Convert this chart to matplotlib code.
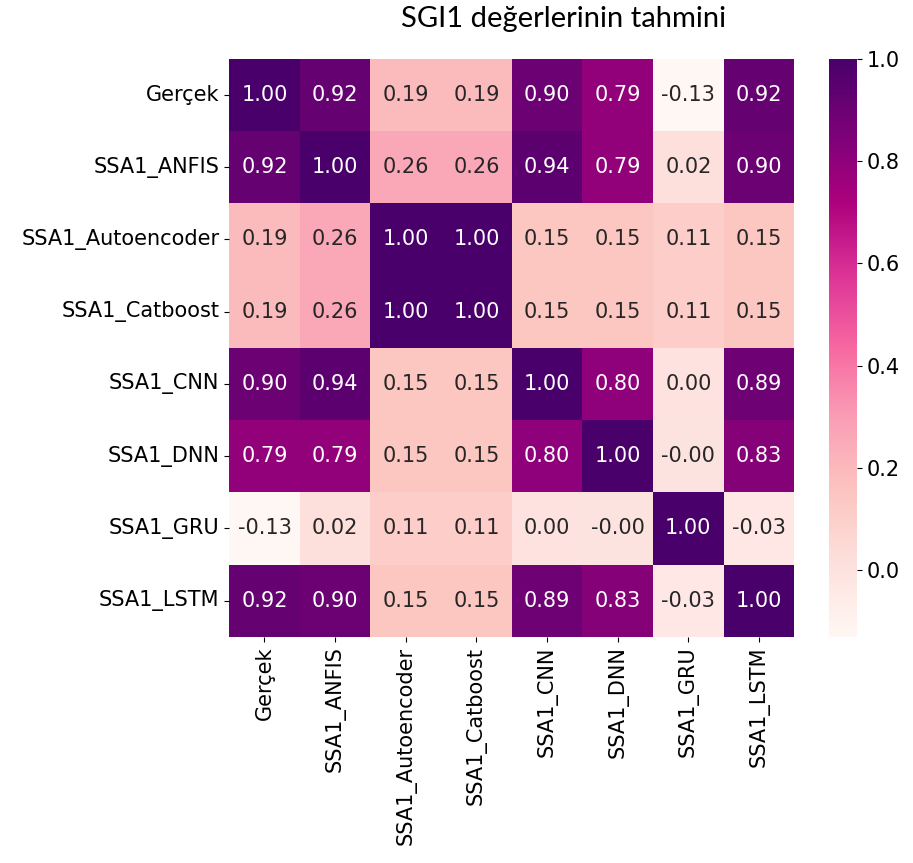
import numpy as np
import pandas as pd
import matplotlib
matplotlib.use('Agg')
import matplotlib.pyplot as plt
import seaborn as sns

labels = ['Gerçek', 'SSA1_ANFIS', 'SSA1_Autoencoder', 'SSA1_Catboost',
          'SSA1_CNN', 'SSA1_DNN', 'SSA1_GRU', 'SSA1_LSTM']

row_gercek = [1.00, 0.92, 0.19, 0.19, 0.90, 0.79, -0.13, 0.92]
row_anfis = [0.92, 1.00, 0.26, 0.26, 0.94, 0.79, 0.02, 0.90]
row_auto = [0.19, 0.26, 1.00, 1.00, 0.15, 0.15, 0.11, 0.15]
row_cat = [0.19, 0.26, 1.00, 1.00, 0.15, 0.15, 0.11, 0.15]
row_cnn = [0.90, 0.94, 0.15, 0.15, 1.00, 0.80, 0.00, 0.89]
row_dnn = [0.79, 0.79, 0.15, 0.15, 0.80, 1.00, -0.004, 0.83]
row_gru = [-0.13, 0.02, 0.11, 0.11, 0.00, -0.004, 1.00, -0.03]
row_lstm = [0.92, 0.90, 0.15, 0.15, 0.89, 0.83, -0.03, 1.00]

corr = pd.DataFrame([row_gercek, row_anfis, row_auto, row_cat,
                     row_cnn, row_dnn, row_gru, row_lstm],
                    index=labels, columns=labels)

plt.rcParams['font.family'] = ['DejaVu Sans']

fig = plt.figure(figsize=(9.13, 8.63), dpi=100)
ax = fig.add_axes([0.251, 0.262, 0.619, 0.670])
cax = fig.add_axes([0.908, 0.262, 0.031, 0.670])

sns.heatmap(corr, annot=True, fmt='.2f', cmap='RdPu', ax=ax, cbar_ax=cax,
            annot_kws={'fontsize': 15})

ax.tick_params(axis='both', labelsize=15)
plt.setp(ax.get_xticklabels(), rotation=90)
plt.setp(ax.get_yticklabels(), rotation=0)
cax.tick_params(labelsize=15)

fig.text(0.617, 0.978, 'SGI1 değerlerinin tahmini', ha='center', va='center',
         fontsize=21, family=['Lato', 'DejaVu Sans'])

plt.savefig('out.png')
plt.close()
